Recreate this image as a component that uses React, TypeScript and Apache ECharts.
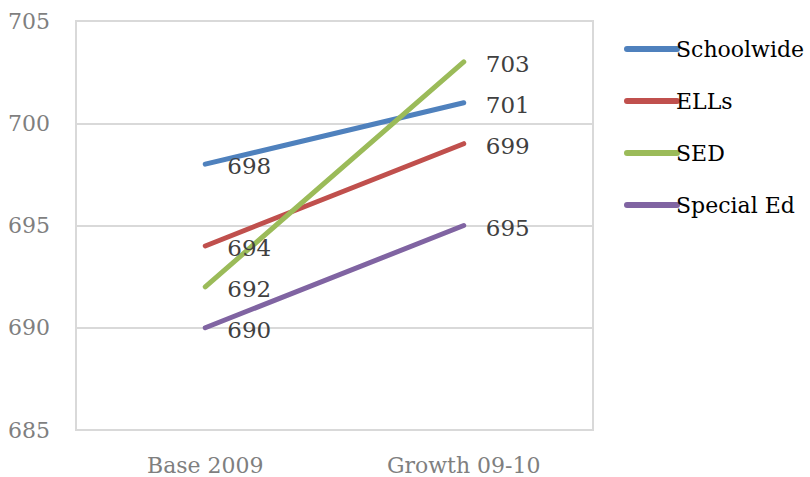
import React, { useEffect, useRef } from "react";
import * as echarts from "echarts";

const categories = ["Base 2009", "Growth 09-10"];
const seriesNames = ["Schoolwide", "ELLs", "SED", "Special Ed"];
const schoolwide = [698, 701];
const ells = [694, 699];
const sed = [692, 703];
const specialEd = [690, 695];
const yTicks = [685, 690, 695, 700, 705];

const colors = ["#4F81BD", "#C0504D", "#9BBB59", "#8064A2"];
const FONT = "DejaVu Serif";

export default function App() {
  const ref = useRef<HTMLDivElement>(null);
  useEffect(() => {
    if (!ref.current) return;
    const chart = echarts.init(ref.current, undefined, { renderer: "svg" });
    const data = [schoolwide, ells, sed, specialEd];
    chart.setOption({
      animation: false,
      backgroundColor: "#ffffff",
      grid: {
        left: 76,
        right: 217,
        top: 21,
        bottom: 47,
        show: true,
        borderColor: "#d9d9d9",
        borderWidth: 2,
      },
      legend: {
        orient: "vertical",
        left: 619,
        top: 33,
        itemWidth: 56,
        itemHeight: 6,
        itemGap: 30,
        data: seriesNames.map((n, i) => ({
          name: n,
          icon: "path://M3,0 L53,0 A3,3 0 0 1 53,6 L3,6 A3,3 0 0 1 3,0 Z",
          itemStyle: { color: colors[i] },
        })),
        textStyle: {
          fontFamily: FONT,
          fontSize: 22,
          color: "#000000",
          padding: [0, 0, 0, -9],
        },
      },
      xAxis: {
        type: "category",
        data: categories,
        boundaryGap: true,
        axisLine: { show: true, lineStyle: { color: "#d9d9d9", width: 2 } },
        axisTick: { show: false },
        axisLabel: {
          fontFamily: FONT,
          fontSize: 22,
          color: "#7f7f7f",
          margin: 24,
        },
      },
      yAxis: {
        type: "value",
        min: yTicks[0],
        max: yTicks[yTicks.length - 1],
        interval: 5,
        axisLine: { show: true, lineStyle: { color: "#d9d9d9", width: 2 } },
        axisTick: { show: false },
        splitLine: { lineStyle: { color: "#d9d9d9", width: 2 } },
        axisLabel: {
          fontFamily: FONT,
          fontSize: 22,
          color: "#7f7f7f",
          margin: 26,
        },
      },
      series: seriesNames.map((n, i) => ({
        name: n,
        type: "line",
        data: data[i],
        symbol: "circle",
        symbolSize: 0,
        showSymbol: true,
        lineStyle: { color: colors[i], width: 5, cap: "round" },
        itemStyle: { color: colors[i] },
        label: {
          show: true,
          position: "right",
          distance: 22,
          offset: [0, 2],
          fontFamily: FONT,
          fontSize: 23,
          color: "#404040",
        },
      })),
    });
    return () => chart.dispose();
  }, []);
  return (
    <div
      ref={ref}
      style={{ position: "fixed", left: 0, top: 0, width: 810, height: 477 }}
    />
  );
}
